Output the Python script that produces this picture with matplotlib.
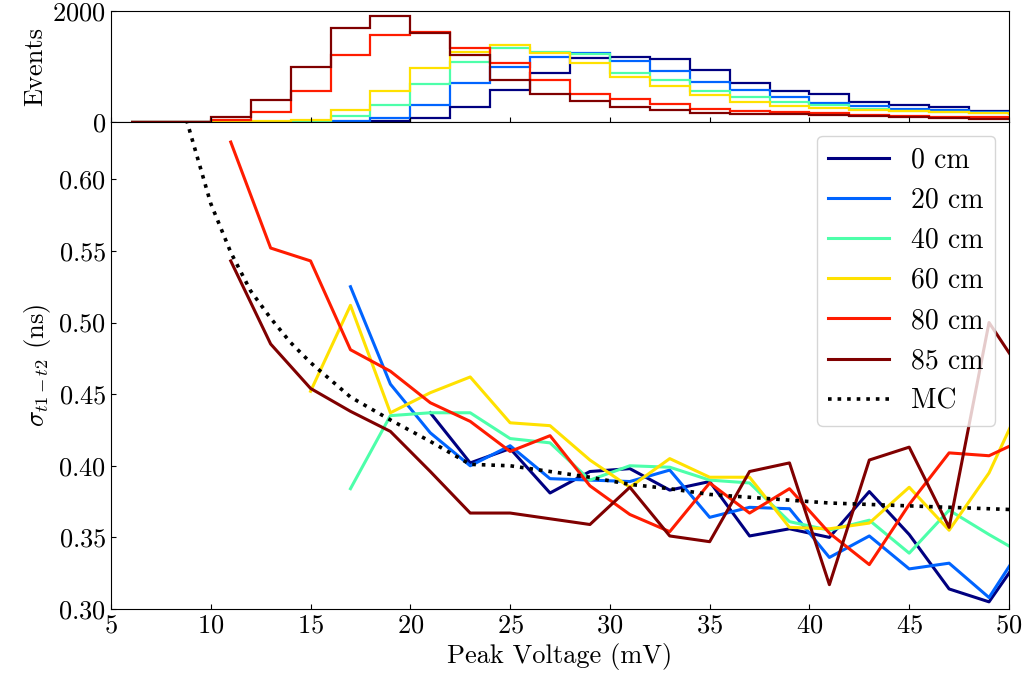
import matplotlib
matplotlib.use("Agg")
import matplotlib.pyplot as plt
import numpy as np

plt.rcParams["font.family"] = "serif"
plt.rcParams["font.serif"] = ["cmr10"]
plt.rcParams["mathtext.fontset"] = "cm"
plt.rcParams["axes.formatter.use_mathtext"] = True
plt.rcParams["font.size"] = 19

# --- data ---------------------------------------------------------------
distances = ["0 cm", "20 cm", "40 cm", "60 cm", "80 cm", "85 cm"]
colors = ["#000080", "#0064ff", "#4dffaa", "#ffe100", "#ff1c00", "#800000"]

# histogram of peak voltages, 2 mV bins
bin_edges = np.arange(6, 54, 2)
counts_0 = [0, 0, 0, 0, 0, 0, 10, 72, 266, 585, 885, 1156, 1175, 1127, 934, 705,
            567, 506, 361, 314, 271, 193, 180]
counts_20 = [0, 0, 0, 0, 0, 25, 72, 314, 705, 994, 1169, 1235, 1097, 916, 717, 585,
             452, 343, 284, 235, 211, 175, 160]
counts_40 = [0, 0, 0, 0, 0, 103, 314, 676, 1084, 1337, 1265, 1218, 874, 753, 567, 446,
             356, 302, 242, 193, 181, 163, 150]
counts_60 = [0, 0, 0, 10, 40, 211, 555, 965, 1265, 1380, 1247, 1066, 808, 645, 482, 361,
             284, 253, 211, 193, 175, 163, 150]
counts_80 = [0, 0, 43, 175, 555, 1205, 1561, 1620, 1337, 1055, 748, 513, 416, 332, 235, 206,
             175, 163, 133, 115, 97, 85, 80]
counts_85 = [0, 0, 85, 392, 994, 1687, 1910, 1608, 1205, 753, 513, 386, 271, 211, 163, 145,
             145, 121, 103, 85, 72, 61, 55]
hist_counts = [counts_0, counts_20, counts_40, counts_60, counts_80, counts_85]

# time resolution vs. peak voltage (bin centres)
v_0 = [21, 23, 25, 27, 29, 31, 33, 35, 37, 39, 41, 43, 45, 47, 49, 51]
s_0 = [0.437, 0.402, 0.412, 0.381, 0.396, 0.398, 0.383, 0.389, 0.351, 0.356, 0.350,
       0.382, 0.352, 0.314, 0.305, 0.345]
v_20 = [17, 19, 21, 23, 25, 27, 29, 31, 33, 35, 37, 39, 41, 43, 45, 47, 49, 51]
s_20 = [0.525, 0.457, 0.423, 0.400, 0.414, 0.391, 0.390, 0.389, 0.397, 0.364, 0.371,
        0.370, 0.336, 0.351, 0.328, 0.332, 0.308, 0.351]
v_40 = [17, 19, 21, 23, 25, 27, 29, 31, 33, 35, 37, 39, 41, 43, 45, 47, 49, 51]
s_40 = [0.384, 0.435, 0.437, 0.437, 0.419, 0.416, 0.390, 0.400, 0.399, 0.390, 0.388,
        0.361, 0.355, 0.362, 0.339, 0.369, 0.352, 0.336]
v_60 = [15, 17, 19, 21, 23, 25, 27, 29, 31, 33, 35, 37, 39, 41, 43, 45, 47, 49, 51]
s_60 = [0.452, 0.512, 0.437, 0.451, 0.462, 0.430, 0.428, 0.404, 0.385, 0.405, 0.392,
        0.392, 0.357, 0.356, 0.360, 0.385, 0.355, 0.395, 0.455]
v_80 = [11, 13, 15, 17, 19, 21, 23, 25, 27, 29, 31, 33, 35, 37, 39, 41, 43, 45, 47, 49, 51]
s_80 = [0.626, 0.552, 0.543, 0.481, 0.466, 0.444, 0.431, 0.410, 0.421, 0.386, 0.366,
        0.354, 0.388, 0.367, 0.384, 0.353, 0.331, 0.373, 0.409, 0.407, 0.420]
v_85 = [11, 13, 15, 17, 19, 21, 23, 25, 27, 29, 31, 33, 35, 37, 39, 41, 43, 45, 47, 49, 51]
s_85 = [0.543, 0.485, 0.454, 0.438, 0.424, 0.396, 0.367, 0.367, 0.363, 0.359, 0.385,
        0.351, 0.347, 0.396, 0.402, 0.317, 0.404, 0.413, 0.357, 0.500, 0.458]
voltages = [v_0, v_20, v_40, v_60, v_80, v_85]
sigmas = [s_0, s_20, s_40, s_60, s_80, s_85]

v_mc = [8, 9, 10, 11, 12, 13, 14, 15, 17, 19, 21, 23, 25, 27, 29, 31, 33, 35, 37,
        39, 41, 43, 45, 47, 49, 51]
s_mc = [0.680, 0.631, 0.583, 0.549, 0.522, 0.503, 0.486, 0.472, 0.448, 0.432, 0.417,
        0.401, 0.400, 0.396, 0.392, 0.387, 0.384, 0.380, 0.378, 0.376, 0.374, 0.373,
        0.372, 0.371, 0.370, 0.369]

# --- figure -------------------------------------------------------------
fig = plt.figure(figsize=(10.28, 6.88), dpi=100)
ax_h = fig.add_axes([0.108, 0.8227, 0.8735, 0.1613])
ax = fig.add_axes([0.108, 0.1148, 0.8735, 0.7079], sharex=ax_h)

for counts, color in zip(hist_counts, colors):
    ax_h.stairs(counts, bin_edges, color=color, lw=1.6)
ax_h.set_ylim(0, 2000)
ax_h.set_yticks([0, 2000])
ax_h.set_ylabel("Events")
ax_h.tick_params(direction="in", labelbottom=False)

for v, s, color, label in zip(voltages, sigmas, colors, distances):
    ax.plot(v, s, color=color, lw=2.2, label=label)
ax.plot(v_mc, s_mc, color="black", ls=":", lw=2.6, label="MC")

ax.set_xlim(5, 50)
ax.set_ylim(0.30, 0.64)
ax.set_yticks(np.arange(0.30, 0.601, 0.05))
ax.set_xlabel("Peak Voltage (mV)")
ax.set_ylabel(r"$\sigma_{t1-t2}$ (ns)")
ax.tick_params(direction="in")
ax.legend(loc="upper right", framealpha=0.8, handlelength=2.2, fontsize=20)

fig.align_ylabels([ax_h, ax])
fig.savefig("out.png", dpi=100)
